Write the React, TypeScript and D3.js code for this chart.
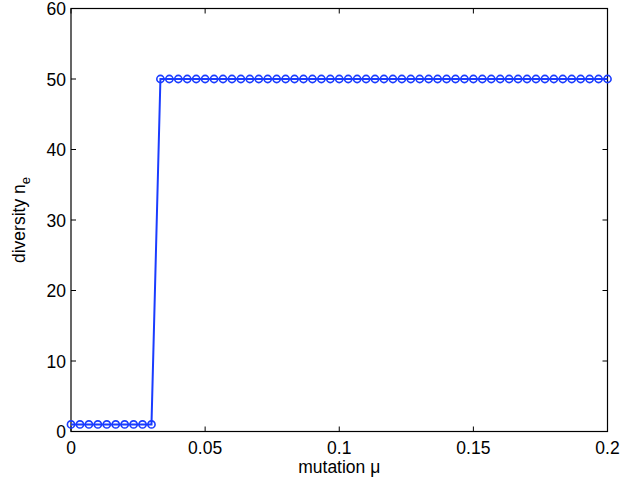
import React from 'react';
import * as d3 from 'd3';

const W = 623;
const H = 487;

// mutation rates sampled every 1/300 from 0 to 0.2
const mutation = d3.range(0, 61).map((k) => k / 300);
const diversity = [
  1, 1, 1, 1, 1, 1, 1, 1, 1, 1,
  50, 50, 50, 50, 50, 50, 50, 50, 50, 50,
  50, 50, 50, 50, 50, 50, 50, 50, 50, 50,
  50, 50, 50, 50, 50, 50, 50, 50, 50, 50,
  50, 50, 50, 50, 50, 50, 50, 50, 50, 50,
  50, 50, 50, 50, 50, 50, 50, 50, 50, 50,
  50,
];
const xTicks = [0, 0.05, 0.1, 0.15, 0.2];
const yTicks = [0, 10, 20, 30, 40, 50, 60];

export default function App() {
  const m = { left: 71, right: 607.5, top: 8.5, bottom: 431.5 };
  const x = d3.scaleLinear().domain([0, 0.2]).range([m.left, m.right]);
  const y = d3.scaleLinear().domain([0, 60]).range([m.bottom, m.top]);
  const line = d3.line<number>().x((d, i) => x(mutation[i])).y((d) => y(d));
  const blue = '#1a3cff';
  const font = 'Liberation Sans, Arial, Helvetica, sans-serif';
  const fs = 17.5;

  return (
    <svg width={W} height={H} style={{ position: 'absolute', left: 0, top: 0, background: '#fff' }}>
      <rect x={0} y={0} width={W} height={H} fill="#fff" />
      <rect x={m.left} y={m.top} width={m.right - m.left} height={m.bottom - m.top} fill="none" stroke="#000" strokeWidth={1.2} />
      {xTicks.map((t) => (
        <g key={'x' + t}>
          <line x1={x(t)} x2={x(t)} y1={m.bottom} y2={m.bottom - 5} stroke="#000" />
          <line x1={x(t)} x2={x(t)} y1={m.top} y2={m.top + 5} stroke="#000" />
          <text x={x(t)} y={m.bottom + 22} textAnchor="middle" fontFamily={font} fontSize={fs}>{t}</text>
        </g>
      ))}
      {yTicks.map((t) => (
        <g key={'y' + t}>
          <line x1={m.left} x2={m.left + 5} y1={y(t)} y2={y(t)} stroke="#000" />
          <line x1={m.right} x2={m.right - 5} y1={y(t)} y2={y(t)} stroke="#000" />
          <text x={m.left - 5} y={y(t) + 6.5} textAnchor="end" fontFamily={font} fontSize={fs}>{t}</text>
        </g>
      ))}
      <path d={line(diversity) || ''} fill="none" stroke={blue} strokeWidth={2} />
      {diversity.map((d, i) => (
        <circle key={i} cx={x(mutation[i])} cy={y(d)} r={3.6} fill="none" stroke={blue} strokeWidth={1.6} />
      ))}
      <text x={x(0.1)} y={m.bottom + 41} textAnchor="middle" fontFamily={font} fontSize={fs}>mutation μ</text>
      <text transform={`translate(25,${(m.top + m.bottom) / 2}) rotate(-90)`} textAnchor="middle" fontFamily={font} fontSize={fs}>
        diversity n<tspan dy={5} fontSize={13}>e</tspan>
      </text>
    </svg>
  );
}
